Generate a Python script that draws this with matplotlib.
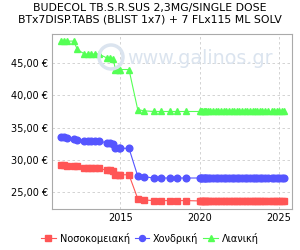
import matplotlib
matplotlib.use("Agg")
import matplotlib.pyplot as plt
from matplotlib.ticker import FuncFormatter, FixedLocator
from matplotlib.patches import Circle

title = "BUDECOL TB.S.R.SUS 2,3MG/SINGLE DOSE\nBTx7DISP.TABS (BLIST 1x7) + 7 FLx115 ML SOLV"

# dates as decimal years
dates = [2011.3, 2011.45, 2011.65, 2012.07, 2012.3, 2012.75, 2012.95, 2013.15,
         2013.4, 2013.65, 2014.15, 2014.35, 2014.55, 2014.7, 2014.9, 2015.0,
         2015.55, 2016.1, 2016.5, 2017.12, 2017.54, 2018.12, 2018.55, 2019.11,
         2020.0, 2020.08, 2020.17, 2020.25, 2020.33, 2020.42, 2020.5, 2020.67,
         2020.83, 2021.0, 2021.17, 2021.33, 2021.5, 2021.67, 2021.83, 2022.0,
         2022.17, 2022.33, 2022.5, 2022.67, 2022.83, 2023.0, 2023.17, 2023.33,
         2023.5, 2023.6, 2023.8, 2023.95, 2024.1, 2024.3, 2024.55, 2024.7,
         2024.85, 2025.0, 2025.15, 2025.3]

hospital = [29.2, 29.2, 29.1, 29.1, 29.0, 28.7, 28.7, 28.7,
            28.7, 28.7, 28.4, 28.4, 28.3, 27.7, 27.7, 27.7,
            27.7, 24.0, 23.8, 23.7, 23.7, 23.7, 23.7, 23.7,
            23.65, 23.65, 23.65, 23.65, 23.65, 23.65, 23.65, 23.65,
            23.65, 23.65, 23.65, 23.65, 23.65, 23.65, 23.65, 23.65,
            23.65, 23.65, 23.65, 23.65, 23.65, 23.65, 23.65, 23.65,
            23.65, 23.65, 23.65, 23.65, 23.65, 23.65, 23.65, 23.65,
            23.65, 23.65, 23.65, 23.65]

wholesale = [33.5, 33.5, 33.4, 33.3, 33.1, 33.0, 33.0, 33.0,
             33.0, 33.0, 32.6, 32.6, 32.5, 31.8, 31.8, 31.8,
             31.8, 27.5, 27.4, 27.2, 27.2, 27.2, 27.2, 27.2,
             27.2, 27.2, 27.2, 27.2, 27.2, 27.2, 27.2, 27.2,
             27.2, 27.2, 27.2, 27.2, 27.2, 27.2, 27.2, 27.2,
             27.2, 27.2, 27.2, 27.2, 27.2, 27.2, 27.2, 27.2,
             27.2, 27.2, 27.2, 27.2, 27.2, 27.2, 27.2, 27.2,
             27.2, 27.2, 27.2, 27.2]

retail = [48.4, 48.4, 48.4, 48.4, 47.1, 46.4, 46.4, 46.4,
          46.4, 46.4, 45.8, 45.8, 45.7, 44.0, 44.0, 44.0,
          44.0, 37.8, 37.6, 37.5, 37.5, 37.5, 37.5, 37.5,
          37.5, 37.5, 37.5, 37.5, 37.5, 37.5, 37.5, 37.5,
          37.5, 37.5, 37.5, 37.5, 37.5, 37.5, 37.5, 37.5,
          37.5, 37.5, 37.5, 37.5, 37.5, 37.5, 37.5, 37.5,
          37.5, 37.5, 37.5, 37.5, 37.5, 37.5, 37.5, 37.5,
          37.5, 37.5, 37.5, 37.5]

labels = ["Νοσοκομειακή", "Χονδρική", "Λιανική"]
yticks = [25, 30, 35, 40, 45]
xticks = [2015, 2020, 2025]

plt.rcParams['font.family'] = ['DejaVu Sans']

fig = plt.figure(figsize=(3, 2.5), dpi=100)
ax = fig.add_axes([0.173, 0.164, 0.8, 0.7])

# watermark
fig.text(127 / 300, 1 - 59 / 250, "www.galinos.gr", fontsize=13.8,
         color='#dbe4ef', ha='left', va='center', zorder=0)
fig.patches.append(Circle((111, 193), 12, transform=None, fill=False,
                          edgecolor='#dbe4ef', linewidth=2.5, zorder=0))
ax.set_facecolor('none')

ax.plot(dates, hospital, color='#ff5555', marker='s', markersize=4.6,
        linewidth=0.8, label=labels[0], zorder=3)
ax.plot(dates, wholesale, color='#5555ff', marker='o', markersize=4.8,
        linewidth=0.8, label=labels[1], zorder=3)
ax.plot(dates, retail, color='#55ff55', marker='^', markersize=4.8,
        linewidth=0.8, label=labels[2], zorder=3)

ax.set_xlim(2010.7, 2025.8)
ax.set_ylim(22.4, 49.5)
ax.yaxis.set_major_locator(FixedLocator(yticks))
ax.xaxis.set_major_locator(FixedLocator(xticks))
ax.yaxis.set_major_formatter(FuncFormatter(lambda v, p: f"{v:.2f}".replace('.', ',') + " €"))
ax.grid(True, color='#cccccc', linestyle=(0, (3, 3)), linewidth=0.6)
ax.tick_params(length=0, labelsize=7, pad=3)
for s in ax.spines.values():
    s.set_color('#aaaaaa')

fig.suptitle(title, fontsize=7.8, y=0.99, linespacing=1.3)
fig.legend(loc='lower center', ncol=3, frameon=False, fontsize=7,
           bbox_to_anchor=(0.5, -0.01), handlelength=1.5, columnspacing=0.5,
           handletextpad=0.4, markerscale=0.9)

fig.savefig("out.png", dpi=100)
